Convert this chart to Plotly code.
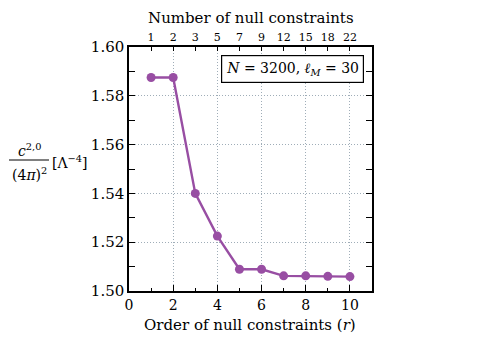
import plotly.graph_objects as go

# order of null constraints and how many constraints that is
r = [1, 2, 3, 4, 5, 6, 7, 8, 9, 10]
n_null = ['1', '2', '3', '5', '7', '9', '12', '15', '18', '22']
c20 = [1.5875, 1.5875, 1.5400, 1.5225, 1.5089, 1.5089, 1.5062, 1.5062, 1.5060, 1.5059]

purple = '#984ea3'
serif = 'DejaVu Serif'

# page has an 8px body margin, so the figure is a bit smaller than the window
OFF = 8
W, H = 501 - OFF, 340 - OFF
L, T = 129 - OFF, 47 - OFF
pw, ph = 243, 244
R = W - L - pw
B = H - T - ph

# window pixel -> paper fraction
def px(x):
    return (x - OFF - L) / pw

def py(y):
    return (T + ph - (y - OFF)) / ph

fig = go.Figure()
fig.add_trace(go.Scatter(x=r, y=c20, mode='lines+markers',
                         line=dict(color=purple, width=2.4),
                         marker=dict(color=purple, size=9),
                         showlegend=False))
# invisible copy so the top axis gets drawn
fig.add_trace(go.Scatter(x=r, y=c20, xaxis='x2', mode='markers',
                         marker=dict(opacity=0), showlegend=False, hoverinfo='skip'))

grid = '#9fadb8'
fig.update_layout(
    width=W, height=H,
    margin=dict(l=L, r=R, t=T, b=B, autoexpand=False),
    paper_bgcolor='white', plot_bgcolor='white',
    font=dict(family=serif, size=14, color='black'),
    xaxis=dict(range=[0, 11], tickvals=[0, 2, 4, 6, 8, 10], automargin=False,
               ticks='inside', ticklen=6, tickwidth=1, tickcolor='black',
               showline=True, linecolor='black', linewidth=1.5, mirror=True,
               showgrid=True, gridcolor=grid, griddash='1px,2px', gridwidth=1,
               zeroline=False,
               minor=dict(tickvals=[1, 3, 5, 7, 9], ticks='inside', ticklen=3, tickcolor='black'),
               tickfont=dict(size=14), ticklabelstandoff=0),
    xaxis2=dict(range=[0, 11], overlaying='x', side='top', anchor='y', automargin=False,
                tickvals=r, ticktext=n_null,
                ticks='inside', ticklen=4, tickcolor='black',
                showgrid=False, zeroline=False, tickfont=dict(size=11), ticklabelstandoff=3),
    yaxis=dict(range=[1.50, 1.60], dtick=0.02, tickformat='.2f', automargin=False,
               ticks='inside', ticklen=6, tickcolor='black',
               showline=True, linecolor='black', linewidth=1.5, mirror='allticks',
               showgrid=True, gridcolor=grid, griddash='1px,2px', gridwidth=1,
               zeroline=False,
               minor=dict(dtick=0.01, ticks='inside', ticklen=3, tickcolor='black'),
               tickfont=dict(size=15)),
)

# axis titles placed by hand
fig.add_annotation(xref='paper', yref='paper', x=px(251), y=py(18), text='Number of null constraints',
                   showarrow=False, font=dict(size=15), xanchor='center', yanchor='middle')
fig.add_annotation(xref='paper', yref='paper', x=px(250), y=py(325), text='Order of null constraints (<i>r</i>)',
                   showarrow=False, font=dict(size=15), xanchor='center', yanchor='middle')

# y label as a hand-built fraction
fig.add_annotation(xref='paper', yref='paper', x=px(29), y=py(150), text='<i>c</i><sup>2,0</sup>',
                   showarrow=False, font=dict(size=14), xanchor='center', yanchor='middle')
fig.add_annotation(xref='paper', yref='paper', x=px(29), y=py(174), text='(4<i>π</i>)<sup>2</sup>',
                   showarrow=False, font=dict(size=14), xanchor='center', yanchor='middle')
fig.add_annotation(xref='paper', yref='paper', x=px(50), y=py(162), text='[Λ<sup>−4</sup>]',
                   showarrow=False, font=dict(size=14), xanchor='left', yanchor='middle')
fig.add_shape(type='line', xref='paper', yref='paper', x0=px(9), x1=px(49), y0=py(160), y1=py(160),
              line=dict(color='black', width=1))

# parameter box
fig.add_annotation(xref='paper', yref='paper', x=px(292), y=py(69),
                   text='<i>N</i> = 3200, <i>ℓ</i><sub><i>M</i></sub> = 30',
                   showarrow=False, font=dict(size=14), xanchor='center', yanchor='middle',
                   bordercolor='black', borderwidth=1.2, borderpad=4, bgcolor='white')

fig.write_html('out.html')
